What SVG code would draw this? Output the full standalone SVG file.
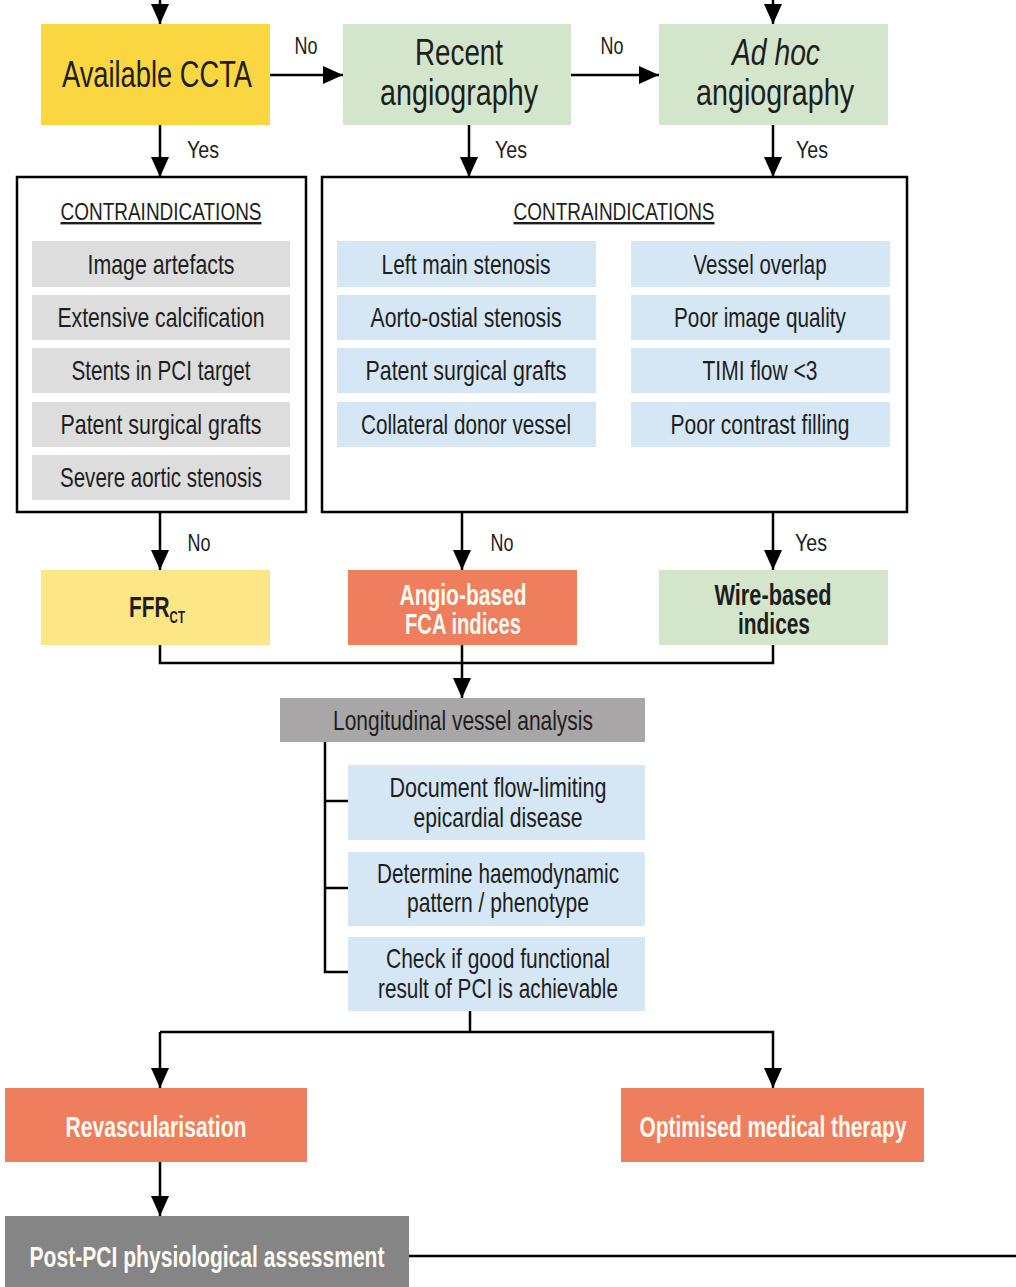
<svg xmlns="http://www.w3.org/2000/svg" width="1016" height="1287" viewBox="0 0 1016 1287">
<style>
text{font-family:"Liberation Sans",Arial,sans-serif;text-anchor:middle;fill:#1e1e1e}
.big{font-size:37px}
.lbl{font-size:24px}
.item{font-size:28px}
.bold{font-weight:bold;font-size:29px}
.w{fill:#fffaf2}
.ln{stroke:#000;stroke-width:2.5;fill:none}
.yel{fill:#FAD740}
.lyel{fill:#FCE686}
.grn{fill:#D3E5CA}
.org{fill:#EE7E5D}
.gry{fill:#DDDDDD}
.blu{fill:#D5E6F4}
.dg{fill:#A8A6A6}
.pg{fill:#858585}
</style>
<defs>
<marker id="a" viewBox="0 0 20 18" refX="20" refY="9" markerWidth="20" markerHeight="18" markerUnits="userSpaceOnUse" orient="auto">
<path d="M0,0 L20,9 L0,18 z" fill="#000"/>
</marker>
</defs>
<g id="connectors">
<line class="ln" x1="160" y1="0" x2="160" y2="24" marker-end="url(#a)"/>
<line class="ln" x1="773" y1="0" x2="773" y2="24" marker-end="url(#a)"/>
<line class="ln" x1="270" y1="75" x2="343" y2="75" marker-end="url(#a)"/>
<line class="ln" x1="571" y1="75" x2="659" y2="75" marker-end="url(#a)"/>
<line class="ln" x1="160" y1="125" x2="160" y2="177" marker-end="url(#a)"/>
<line class="ln" x1="469" y1="125" x2="469" y2="177" marker-end="url(#a)"/>
<line class="ln" x1="773" y1="125" x2="773" y2="177" marker-end="url(#a)"/>
<line class="ln" x1="160" y1="512" x2="160" y2="570" marker-end="url(#a)"/>
<line class="ln" x1="462" y1="512" x2="462" y2="570" marker-end="url(#a)"/>
<line class="ln" x1="773" y1="512" x2="773" y2="570" marker-end="url(#a)"/>
<polyline class="ln" points="160,645 160,663 773,663 773,645"/>
<line class="ln" x1="462" y1="645" x2="462" y2="698" marker-end="url(#a)"/>
<polyline class="ln" points="325,742 325,972 348,972"/>
<line class="ln" x1="325" y1="801" x2="348" y2="801"/>
<line class="ln" x1="325" y1="888" x2="348" y2="888"/>
<line class="ln" x1="470" y1="1011" x2="470" y2="1032"/>
<polyline class="ln" points="160,1032 773,1032 773,1088" marker-end="url(#a)"/>
<line class="ln" x1="160" y1="1032" x2="160" y2="1088" marker-end="url(#a)"/>
<line class="ln" x1="160" y1="1162" x2="160" y2="1216" marker-end="url(#a)"/>
<line class="ln" x1="409" y1="1256" x2="1016" y2="1256"/>
<text class="lbl" x="306" y="54" textLength="23" lengthAdjust="spacingAndGlyphs">No</text>
<text class="lbl" x="612" y="54" textLength="23" lengthAdjust="spacingAndGlyphs">No</text>
<text class="lbl" x="203" y="158" textLength="32" lengthAdjust="spacingAndGlyphs">Yes</text>
<text class="lbl" x="511" y="158" textLength="32" lengthAdjust="spacingAndGlyphs">Yes</text>
<text class="lbl" x="812" y="158" textLength="32" lengthAdjust="spacingAndGlyphs">Yes</text>
<text class="lbl" x="199" y="551" textLength="23" lengthAdjust="spacingAndGlyphs">No</text>
<text class="lbl" x="502" y="551" textLength="23" lengthAdjust="spacingAndGlyphs">No</text>
<text class="lbl" x="811" y="551" textLength="32" lengthAdjust="spacingAndGlyphs">Yes</text>
</g>
<g id="available-ccta">
<rect class="yel" x="41" y="24" width="229" height="101"/>
<text class="big" x="157" y="87" textLength="190" lengthAdjust="spacingAndGlyphs">Available CCTA</text>
</g>
<g id="recent-angiography">
<rect class="grn" x="343" y="24" width="228" height="101"/>
<text class="big" x="459" y="65" textLength="88" lengthAdjust="spacingAndGlyphs">Recent</text>
<text class="big" x="459" y="105" textLength="158" lengthAdjust="spacingAndGlyphs">angiography</text>
</g>
<g id="adhoc-angiography">
<rect class="grn" x="659" y="24" width="229" height="101"/>
<text class="big" x="776" y="65" font-style="italic" textLength="88" lengthAdjust="spacingAndGlyphs">Ad hoc</text>
<text class="big" x="775" y="105" textLength="158" lengthAdjust="spacingAndGlyphs">angiography</text>
</g>
<g id="ccta-contraindications">
<rect x="17" y="177" width="289" height="335" fill="#fff" stroke="#000" stroke-width="2.5"/>
<text class="lbl" x="161" y="220" text-decoration="underline" textLength="201" lengthAdjust="spacingAndGlyphs">CONTRAINDICATIONS</text>
<rect class="gry" x="32" y="241" width="258" height="46"/>
<text class="item" x="161" y="274" textLength="147" lengthAdjust="spacingAndGlyphs">Image artefacts</text>
<rect class="gry" x="32" y="295" width="258" height="45"/>
<text class="item" x="161" y="327" textLength="207" lengthAdjust="spacingAndGlyphs">Extensive calcification</text>
<rect class="gry" x="32" y="348" width="258" height="45"/>
<text class="item" x="161" y="380" textLength="179" lengthAdjust="spacingAndGlyphs">Stents in PCI target</text>
<rect class="gry" x="32" y="402" width="258" height="45"/>
<text class="item" x="161" y="434" textLength="201" lengthAdjust="spacingAndGlyphs">Patent surgical grafts</text>
<rect class="gry" x="32" y="455" width="258" height="45"/>
<text class="item" x="161" y="487" textLength="202" lengthAdjust="spacingAndGlyphs">Severe aortic stenosis</text>
</g>
<g id="angio-contraindications">
<rect x="322" y="177" width="585" height="335" fill="#fff" stroke="#000" stroke-width="2.5"/>
<text class="lbl" x="614" y="220" text-decoration="underline" textLength="201" lengthAdjust="spacingAndGlyphs">CONTRAINDICATIONS</text>
<rect class="blu" x="337" y="241" width="259" height="46"/>
<text class="item" x="466" y="274" textLength="169" lengthAdjust="spacingAndGlyphs">Left main stenosis</text>
<rect class="blu" x="337" y="295" width="259" height="45"/>
<text class="item" x="466" y="327" textLength="191" lengthAdjust="spacingAndGlyphs">Aorto-ostial stenosis</text>
<rect class="blu" x="337" y="348" width="259" height="45"/>
<text class="item" x="466" y="380" textLength="201" lengthAdjust="spacingAndGlyphs">Patent surgical grafts</text>
<rect class="blu" x="337" y="402" width="259" height="45"/>
<text class="item" x="466" y="434" textLength="210" lengthAdjust="spacingAndGlyphs">Collateral donor vessel</text>
<rect class="blu" x="631" y="241" width="259" height="46"/>
<text class="item" x="760" y="274" textLength="133" lengthAdjust="spacingAndGlyphs">Vessel overlap</text>
<rect class="blu" x="631" y="295" width="259" height="45"/>
<text class="item" x="760" y="327" textLength="172" lengthAdjust="spacingAndGlyphs">Poor image quality</text>
<rect class="blu" x="631" y="348" width="259" height="45"/>
<text class="item" x="760" y="380" textLength="115" lengthAdjust="spacingAndGlyphs">TIMI flow &lt;3</text>
<rect class="blu" x="631" y="402" width="259" height="45"/>
<text class="item" x="760" y="434" textLength="179" lengthAdjust="spacingAndGlyphs">Poor contrast filling</text>
</g>
<g id="ffrct">
<rect class="lyel" x="41" y="570" width="229" height="75"/>
<text class="bold" transform="translate(157,617) scale(0.72,1)" x="0" y="0" font-size="26">FFR<tspan font-size="16" dy="6">CT</tspan></text>
</g>
<g id="angio-fca">
<rect class="org" x="348" y="570" width="229" height="75"/>
<text class="bold w" x="463" y="605" textLength="127" lengthAdjust="spacingAndGlyphs">Angio-based</text>
<text class="bold w" x="463" y="634" textLength="116" lengthAdjust="spacingAndGlyphs">FCA indices</text>
</g>
<g id="wire-based">
<rect class="grn" x="659" y="570" width="229" height="75"/>
<text class="bold" x="773" y="605" textLength="117" lengthAdjust="spacingAndGlyphs">Wire-based</text>
<text class="bold" x="774" y="634" textLength="72" lengthAdjust="spacingAndGlyphs">indices</text>
</g>
<g id="longitudinal">
<rect class="dg" x="280" y="698" width="365" height="44"/>
<text class="item" x="463" y="730" textLength="260" lengthAdjust="spacingAndGlyphs">Longitudinal vessel analysis</text>
</g>
<g id="document">
<rect class="blu" x="348" y="765" width="297" height="75"/>
<text class="item" x="498" y="797" textLength="217" lengthAdjust="spacingAndGlyphs">Document flow-limiting</text>
<text class="item" x="498" y="827" textLength="169" lengthAdjust="spacingAndGlyphs">epicardial disease</text>
</g>
<g id="determine">
<rect class="blu" x="348" y="852" width="297" height="74"/>
<text class="item" x="498" y="883" textLength="242" lengthAdjust="spacingAndGlyphs">Determine haemodynamic</text>
<text class="item" x="498" y="912" textLength="182" lengthAdjust="spacingAndGlyphs">pattern / phenotype</text>
</g>
<g id="check">
<rect class="blu" x="348" y="937" width="297" height="74"/>
<text class="item" x="498" y="968" textLength="224" lengthAdjust="spacingAndGlyphs">Check if good functional</text>
<text class="item" x="498" y="998" textLength="240" lengthAdjust="spacingAndGlyphs">result of PCI is achievable</text>
</g>
<g id="revascularisation">
<rect class="org" x="5" y="1088" width="302" height="74"/>
<text class="bold w" x="156" y="1137" textLength="181" lengthAdjust="spacingAndGlyphs">Revascularisation</text>
</g>
<g id="omt">
<rect class="org" x="621" y="1088" width="303" height="74"/>
<text class="bold w" x="773" y="1137" textLength="267" lengthAdjust="spacingAndGlyphs">Optimised medical therapy</text>
</g>
<g id="post-pci">
<rect class="pg" x="5" y="1216" width="404" height="71"/>
<text class="bold w" x="207" y="1267" textLength="355" lengthAdjust="spacingAndGlyphs">Post-PCI physiological assessment</text>
</g>
</svg>
